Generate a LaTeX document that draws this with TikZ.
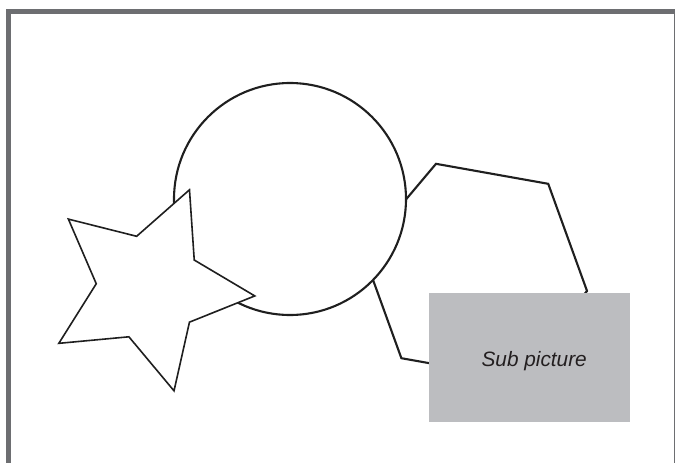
\documentclass[tikz,border=0pt]{standalone}
\usepackage{fontspec}
\setmainfont{Liberation Sans}
\begin{document}
\begin{tikzpicture}[x=1pt,y=-1pt,
  outline/.style={draw=black!88,line width=2.1pt,fill=white,line join=miter},
  staroutline/.style={draw=black!88,line width=1.6pt,fill=white,line join=miter},
  subbox/.style={fill=boxgray,draw=none,minimum width=200.4pt,minimum height=129pt,inner sep=0pt},
  sublabel/.style={font=\fontsize{20.8}{24}\selectfont\itshape,text=labelgray,inner sep=0pt,anchor=base}]
\definecolor{framegray}{HTML}{6D6E71}
\definecolor{boxgray}{HTML}{BCBDC0}
\definecolor{labelgray}{HTML}{231F20}
\useasboundingbox (0,0) rectangle (675,463);
% frame
\fill[framegray] (6,9) rectangle (675,14);
\fill[framegray] (6,9) rectangle (11,463);
\draw[framegray,line width=1pt] (674,9) -- (674,463);
% hexagon
\draw[outline,shift={(474.8,271)}] (-109.9:114) -- (-49.9:114) -- (10.1:114) -- (70.1:114) -- (130.1:114) -- (-169.9:114) -- cycle;
% circle
\node[outline,circle,minimum size=232pt,inner sep=0pt] (circ) at (290,199) {};
% star
\draw[staroutline,shift={(149.1,287.8)}]
  (4.4:106) -- (-31.6:53) -- (-67.6:106) -- (-103.6:53) -- (-139.6:106) -- (-175.6:53)
  -- (-211.6:106) -- (-247.6:53) -- (-283.6:106) -- (-319.6:53) -- cycle;
% sub picture
\node[subbox] (sub) at (529.5,357.2) {};
\node[sublabel] (sublbl) at (534.2,366.7) {Sub picture};
\end{tikzpicture}
\end{document}
